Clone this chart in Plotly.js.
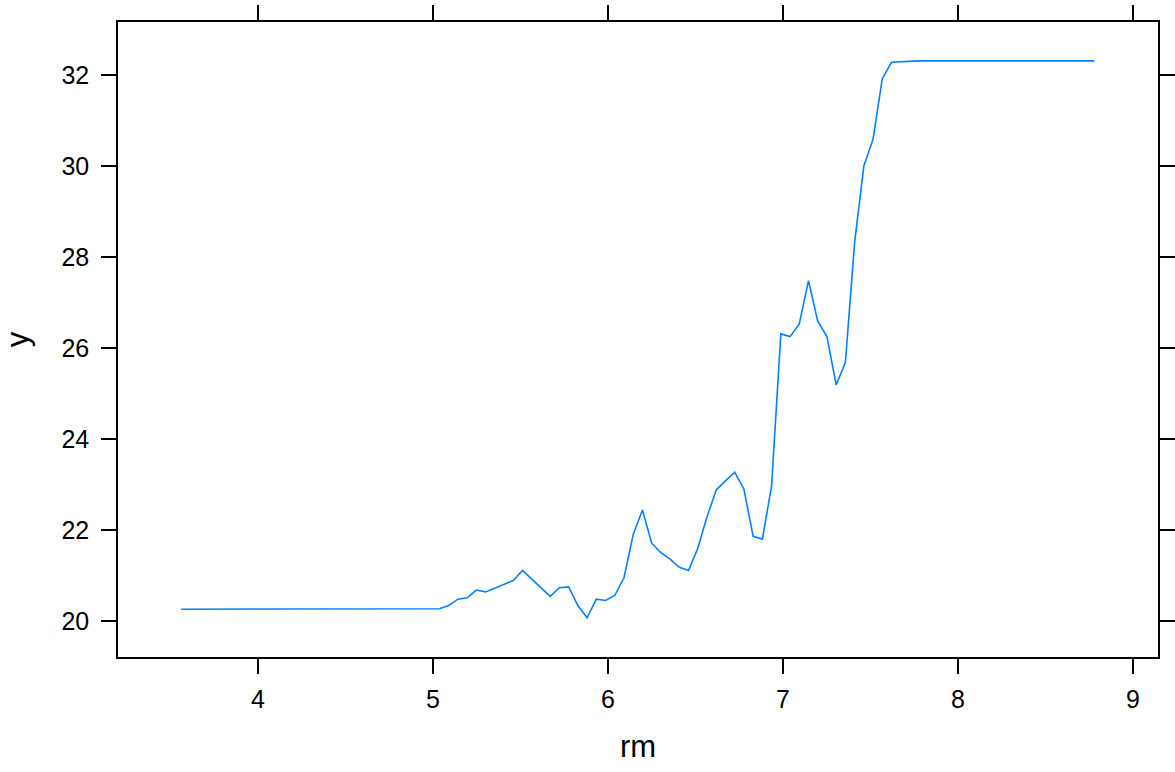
<!DOCTYPE html>
<html>
<head>
<meta charset="utf-8">
<script src="https://cdn.plot.ly/plotly-3.0.1.min.js"></script>
<style>html,body{margin:0;padding:0;background:#fff;}#chart{width:1175px;height:772px;}</style>
</head>
<body>
<div id="chart"></div>
<script>
var rm = [3.5610,3.6137,3.6664,3.7192,3.7719,3.8246,3.8773,3.9300,3.9827,4.0354,
4.0882,4.1409,4.1936,4.2463,4.2990,4.3518,4.4045,4.4572,4.5099,4.5626,
4.6153,4.6681,4.7208,4.7735,4.8262,4.8789,4.9316,4.9844,5.0371,5.0898,
5.1425,5.1952,5.2479,5.3007,5.3534,5.4061,5.4588,5.5115,5.5642,5.6170,
5.6697,5.7224,5.7751,5.8278,5.8806,5.9333,5.9860,6.0387,6.0914,6.1441,
6.1969,6.2496,6.3023,6.3550,6.4077,6.4604,6.5132,6.5659,6.6186,6.6713,
6.7240,6.7767,6.8295,6.8822,6.9349,6.9876,7.0403,7.0931,7.1458,7.1985,
7.2512,7.3039,7.3566,7.4094,7.4621,7.5148,7.5675,7.6202,7.6729,7.7257,
7.7784,7.8311,7.8838,7.9365,7.9893,8.0420,8.0947,8.1474,8.2001,8.2528,
8.3056,8.3583,8.4110,8.4637,8.5164,8.5691,8.6219,8.6746,8.7273,8.7800];

var yhat = [20.26,20.26,20.26,20.26,20.26,20.26,20.26,20.26,20.26,20.26,
20.26,20.26,20.26,20.26,20.26,20.26,20.26,20.26,20.26,20.26,
20.26,20.26,20.26,20.26,20.26,20.26,20.26,20.26,20.27,20.34,
20.48,20.51,20.68,20.64,20.72,20.81,20.89,21.11,20.92,20.73,
20.54,20.73,20.75,20.34,20.07,20.48,20.45,20.56,20.95,21.90,
22.44,21.71,21.50,21.36,21.18,21.11,21.60,22.29,22.88,23.08,
23.27,22.90,21.86,21.80,22.97,26.31,26.25,26.53,27.48,26.59,
26.25,25.19,25.68,28.32,30.00,30.59,31.92,32.28,32.29,32.31,
32.31,32.31,32.31,32.31,32.31,32.31,32.31,32.31,32.31,32.31,
32.31,32.31,32.31,32.31,32.31,32.31,32.31,32.31,32.31,32.31];

var xTicks = [4,5,6,7,8,9];
var yTicks = [20,22,24,26,28,30,32];

var font = {family: 'Liberation Sans, Arial, sans-serif', color: '#000'};

Plotly.newPlot('chart', [{
  x: rm, y: yhat, type: 'scatter', mode: 'lines',
  line: {color: '#0080ff', width: 1.6},
  hoverinfo: 'x+y'
}], {
  width: 1175, height: 772,
  margin: {l: 118, r: 17, t: 22, b: 115, pad: 0},
  paper_bgcolor: '#fff', plot_bgcolor: '#fff',
  showlegend: false,
  font: font,
  xaxis: {
    range: [3.2, 9.143], tickvals: xTicks, ticktext: xTicks.map(String),
    ticks: 'outside', ticklen: 15, tickwidth: 1.5, tickcolor: '#000',
    showline: true, linecolor: '#000', linewidth: 1.5, mirror: 'ticks',
    showgrid: false, zeroline: false,
    tickfont: {family: font.family, size: 25, color: '#000'},
    ticklabelstandoff: 4,
    title: {text: 'rm', font: {family: font.family, size: 31, color: '#000'}, standoff: 24}
  },
  yaxis: {
    range: [19.209, 33.165], tickvals: yTicks, ticktext: yTicks.map(String),
    ticks: 'outside', ticklen: 15, tickwidth: 1.5, tickcolor: '#000',
    showline: true, linecolor: '#000', linewidth: 1.5, mirror: 'ticks',
    showgrid: false, zeroline: false,
    tickfont: {family: font.family, size: 25, color: '#000'},
    ticklabelstandoff: 7,
    title: {text: 'y', font: {family: font.family, size: 31, color: '#000'}, standoff: 27}
  }
}, {displayModeBar: false, staticPlot: false});
</script>
</body>
</html>
